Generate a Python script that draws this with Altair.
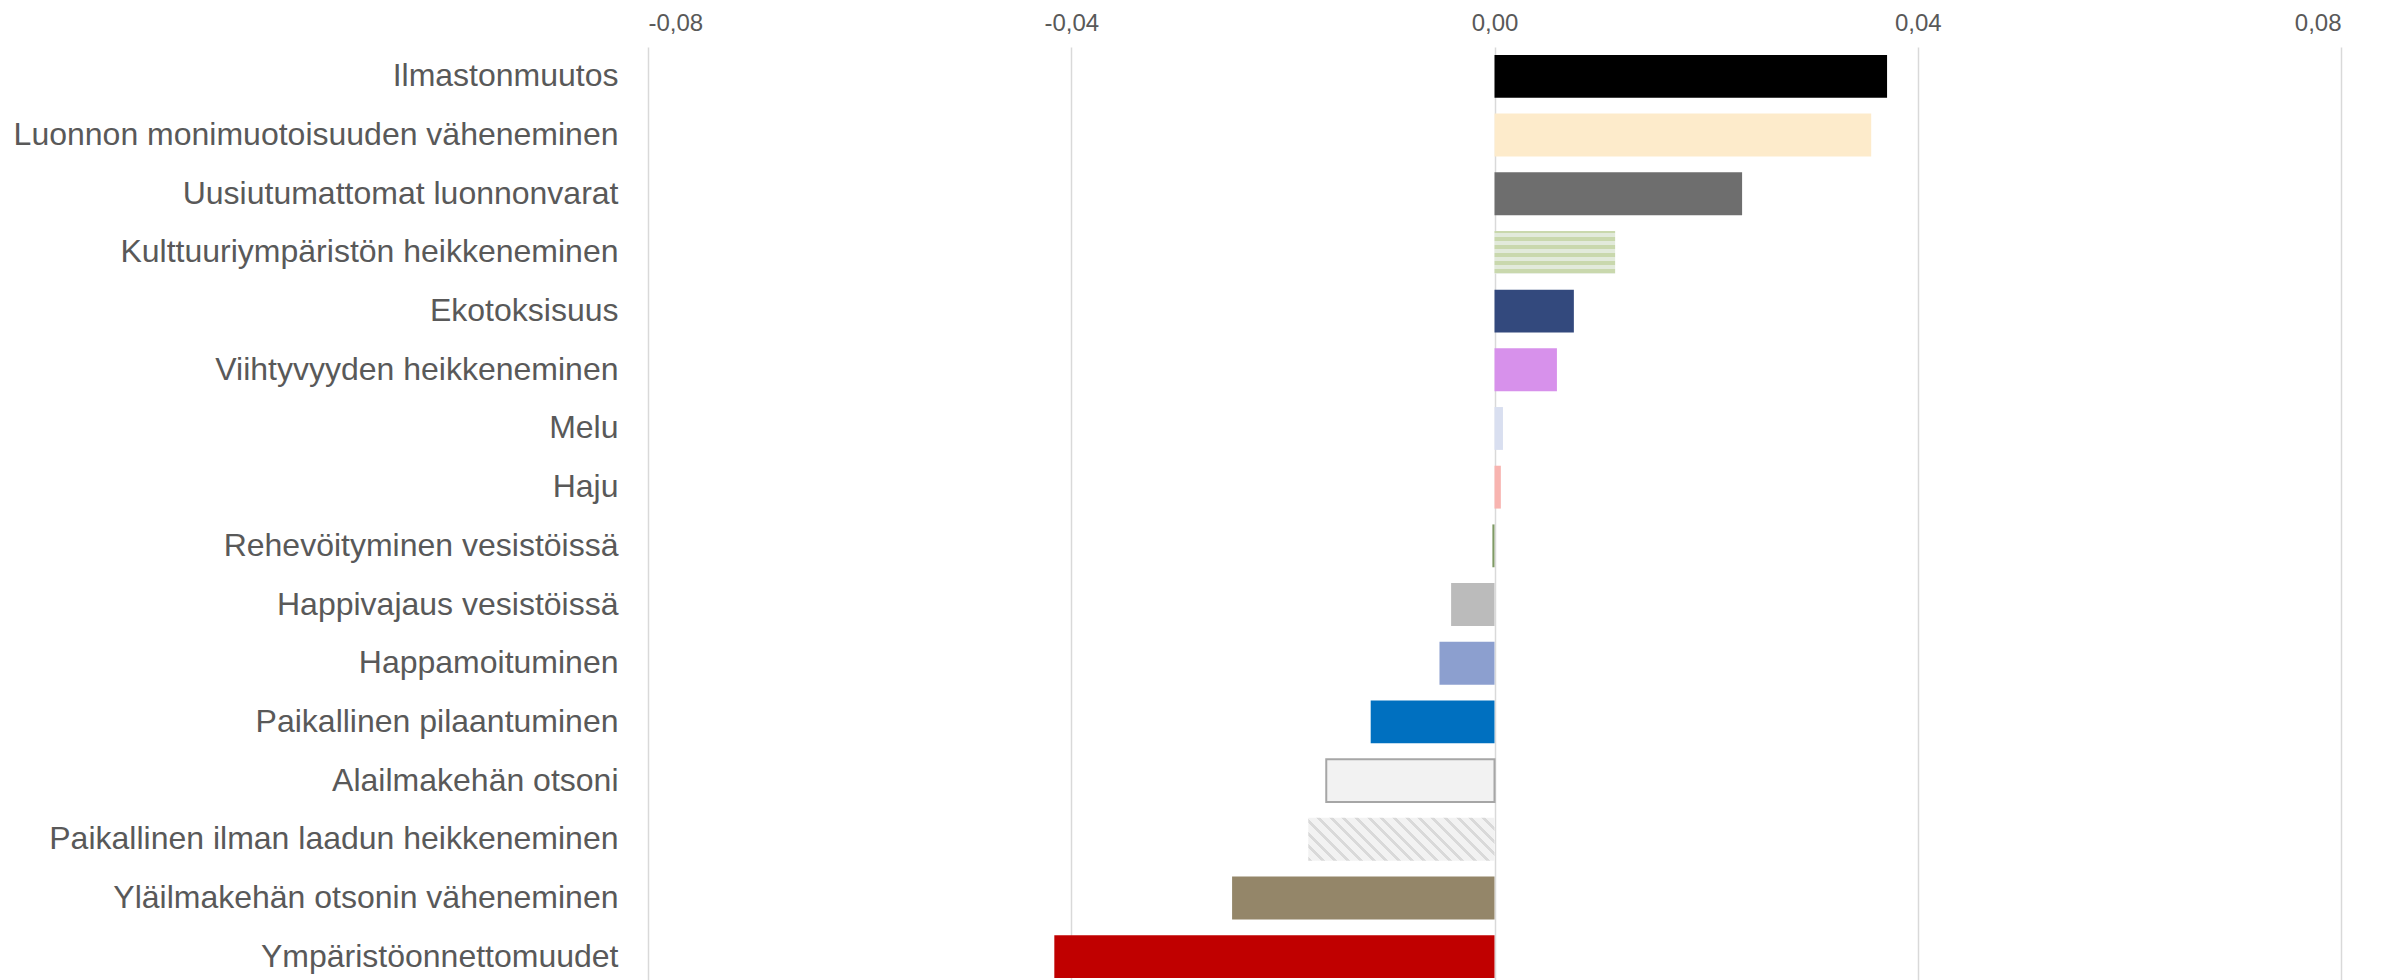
import altair as alt
import pandas as pd

categories = [
    "Ilmastonmuutos",
    "Luonnon monimuotoisuuden väheneminen",
    "Uusiutumattomat luonnonvarat",
    "Kulttuuriympäristön heikkeneminen",
    "Ekotoksisuus",
    "Viihtyvyyden heikkeneminen",
    "Melu",
    "Haju",
    "Rehevöityminen vesistöissä",
    "Happivajaus vesistöissä",
    "Happamoituminen",
    "Paikallinen pilaantuminen",
    "Alailmakehän otsoni",
    "Paikallinen ilman laadun heikkeneminen",
    "Yläilmakehän otsonin väheneminen",
    "Ympäristöonnettomuudet",
]
values = [0.0371, 0.0356, 0.0234, 0.0114, 0.0075, 0.0059, 0.0008, 0.0006,
          -0.0002, -0.0041, -0.0052, -0.0117, -0.0159, -0.0176, -0.0248, -0.0416]
colors = ["#000000", "#fdebcb", "#6e6e6e", "#c9d8ad", "#33497d", "#d791eb",
          "#d9dff0", "#f8b4b0", "#7f9a65", "#bbbbbb", "#8c9fcf", "#0070c0",
          "#f2f2f2", "#f2f2f2", "#948669", "#c00000"]
tick_values = [-0.08, -0.04, 0.0, 0.04, 0.08]

df = pd.DataFrame({"cat": categories, "val": values})

W, H = 1693, 939
P_INNER = 0.27
step = H / len(categories)
bar_h = step * (1 - P_INNER)

# horizontal stripe gradient (green)
g_stops = []
period = 8.0
pos = -2.3
toggle = True
while pos < bar_h:
    a = max(pos, 0) / bar_h
    b = min(pos + period / 2, bar_h) / bar_h
    col = "#c9d8ad" if toggle else "#e2eadb"
    g_stops.append(alt.GradientStop(color=col, offset=a))
    g_stops.append(alt.GradientStop(color=col, offset=b))
    pos += period / 2
    toggle = not toggle
green_grad = alt.LinearGradient(gradient="linear", stops=g_stops, x1=0, y1=0, x2=0, y2=1)

# diagonal hatch gradient
hv = abs(values[13])
bw = hv / 0.16 * W
r = bar_h / bw
k = (1 + r) / (1 + r * r)
total = bw + bar_h
hp = 12.7
sw = 4.0
h_stops = []
pos = 0.0
while pos < total:
    a = pos / total
    b = min(pos + sw, total) / total
    c = min(pos + hp, total) / total
    h_stops += [alt.GradientStop(color="#d9d9d9", offset=a),
                alt.GradientStop(color="#d9d9d9", offset=b),
                alt.GradientStop(color="#f2f2f2", offset=b),
                alt.GradientStop(color="#f2f2f2", offset=c)]
    pos += hp
hatch_grad = alt.LinearGradient(gradient="linear", stops=h_stops,
                                x1=0, y1=1, x2=k, y2=1 - k * r)

y_enc = alt.Y("cat:N", sort=categories, title=None,
              scale=alt.Scale(paddingInner=P_INNER, paddingOuter=P_INNER / 2),
              axis=alt.Axis(labelFontSize=32, labelColor="#595959", labelPadding=30,
                            ticks=False, domain=False, labelLimit=900,
                            labelFont="Liberation Sans"))
x_enc = alt.X("val:Q", title=None,
              scale=alt.Scale(domain=[-0.08, 0.08], nice=False),
              axis=alt.Axis(orient="top", values=tick_values, grid=True,
                            gridColor="#d9d9d9", gridWidth=1.5, domain=False,
                            ticks=False, tickSize=0, labelFontSize=24,
                            labelColor="#595959", labelFont="Liberation Sans",
                            labelBaseline="alphabetic", labelPadding=17,
                            labelExpr="replace(replace(format(datum.value, '.2f'), '.', ','), '\u2212', '-')"))

special = ["Kulttuuriympäristön heikkeneminen", "Alailmakehän otsoni",
           "Paikallinen ilman laadun heikkeneminen"]

base = alt.Chart(df)
plain = base.transform_filter(
    alt.FieldOneOfPredicate(field="cat", oneOf=[c for c in categories if c not in special])
).mark_bar().encode(
    y=y_enc, x=x_enc, x2=alt.datum(0),
    color=alt.Color("cat:N", scale=alt.Scale(domain=categories, range=colors), legend=None),
)
green = base.transform_filter(alt.datum.cat == special[0]).mark_bar(fill=green_grad).encode(
    y=y_enc, x=x_enc, x2=alt.datum(0))
outlined = base.transform_filter(alt.datum.cat == special[1]).mark_bar(
    fill="#f2f2f2", stroke="#a6a6a6", strokeWidth=2).encode(
    y=y_enc, x=x_enc, x2=alt.datum(0))
hatched = base.transform_filter(alt.datum.cat == special[2]).mark_bar(fill=hatch_grad).encode(
    y=y_enc, x=x_enc, x2=alt.datum(0))

chart = alt.layer(plain, green, outlined, hatched).properties(
    width=W, height=H,
    autosize=alt.AutoSizeParams(type="none"),
    padding={"left": 640, "top": 39, "right": 30, "bottom": 0},
).configure_view(stroke=None)

chart.save("out.html", embed_options={"renderer": "svg", "actions": False})
